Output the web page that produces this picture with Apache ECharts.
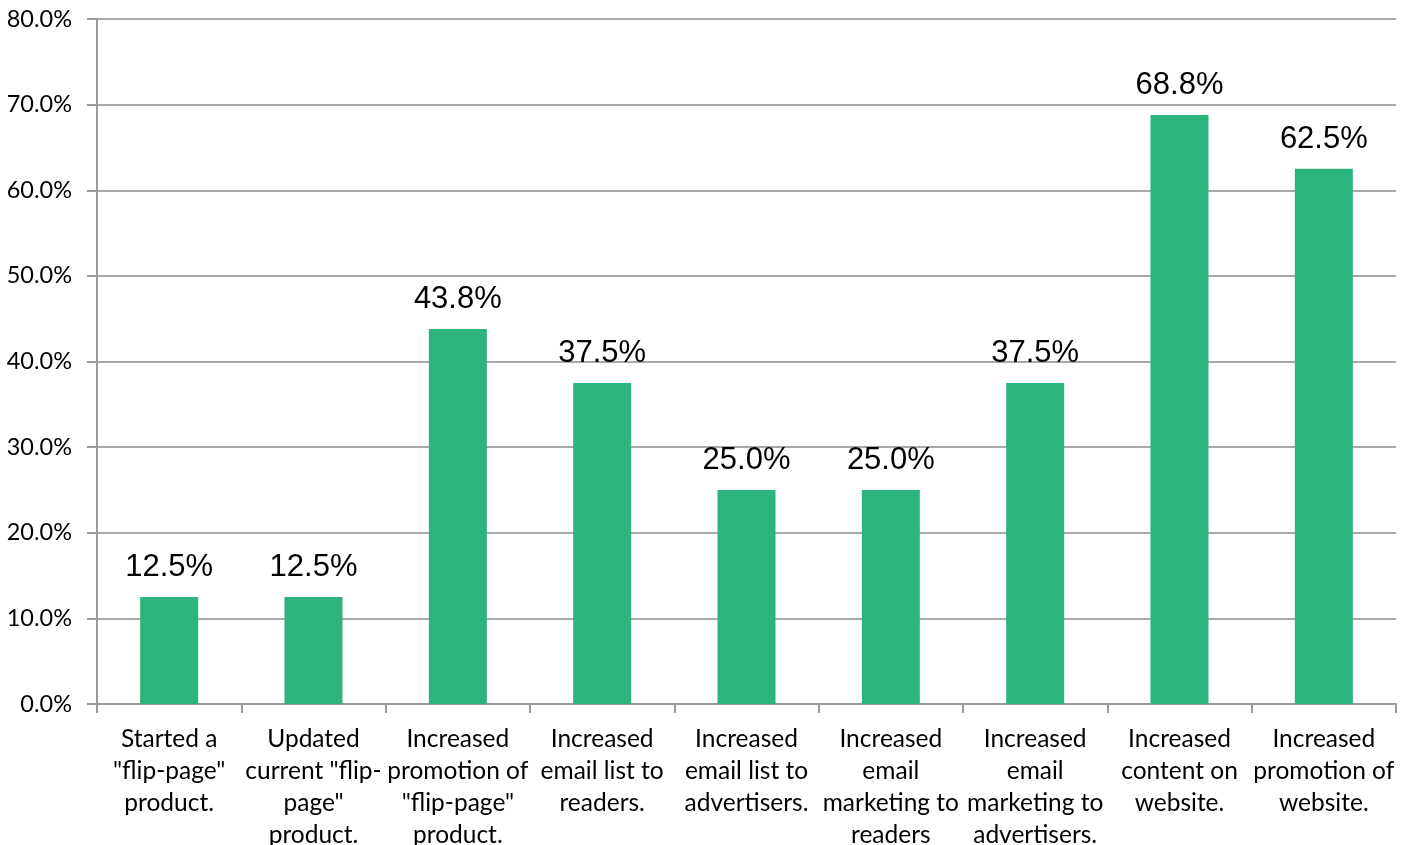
<!DOCTYPE html>
<html>
<head>
<meta charset="utf-8">
<script src="https://cdn.jsdelivr.net/npm/echarts@6/dist/echarts.min.js"></script>
<style>
  html, body { margin: 0; padding: 0; background: #fff; }
  #chart { width: 1409px; height: 845px; }
</style>
</head>
<body>
<div id="chart"></div>
<script>
// Survey responses: share of respondents taking each action
const categories = [
  'Started a\n"flip-page"\nproduct.',
  'Updated\ncurrent "flip-\npage"\nproduct.',
  'Increased\npromotion of\n"flip-page"\nproduct.',
  'Increased\nemail list to\nreaders.',
  'Increased\nemail list to\nadvertisers.',
  'Increased\nemail\nmarketing to\nreaders',
  'Increased\nemail\nmarketing to\nadvertisers.',
  'Increased\ncontent on\nwebsite.',
  'Increased\npromotion of\nwebsite.'
];
const values = [12.5, 12.5, 43.8, 37.5, 25.0, 25.0, 37.5, 68.8, 62.5];
const yTicks = { min: 0, max: 80, step: 10 };

const chart = echarts.init(document.getElementById('chart'));
chart.setOption({
  animation: false,
  grid: { left: 97, right: 13, top: 19, bottom: 141, outerBoundsMode: 'none', containLabel: false },
  xAxis: {
    type: 'category',
    data: categories,
    axisLine: { lineStyle: { color: '#9a9a9a', width: 2 } },
    axisTick: { show: true, length: 9, lineStyle: { color: '#9a9a9a', width: 2 } },
    axisLabel: {
      interval: 0,
      margin: 19,
      fontFamily: 'Lato, "Open Sans", sans-serif',
      fontSize: 24.5,
      lineHeight: 32,
      color: '#000'
    }
  },
  yAxis: {
    type: 'value',
    min: yTicks.min,
    max: yTicks.max,
    interval: yTicks.step,
    axisLine: { show: true, lineStyle: { color: '#9a9a9a', width: 2 } },
    axisTick: { show: true, length: 10, lineStyle: { color: '#9a9a9a', width: 2 } },
    splitLine: { lineStyle: { color: '#a8a8a8', width: 2 } },
    axisLabel: {
      margin: 25,
      fontFamily: 'Lato, "Open Sans", sans-serif',
      fontSize: 23.5,
      color: '#000',
      formatter: v => v.toFixed(1) + '%'
    }
  },
  series: [{
    type: 'bar',
    data: values,
    barWidth: 58,
    itemStyle: { color: '#2bb57c' },
    label: {
      show: true,
      position: 'top',
      distance: 14,
      fontFamily: '"Liberation Sans", Arial, sans-serif',
      fontSize: 31,
      color: '#000',
      formatter: p => p.value.toFixed(1) + '%'
    }
  }]
});
</script>
</body>
</html>
